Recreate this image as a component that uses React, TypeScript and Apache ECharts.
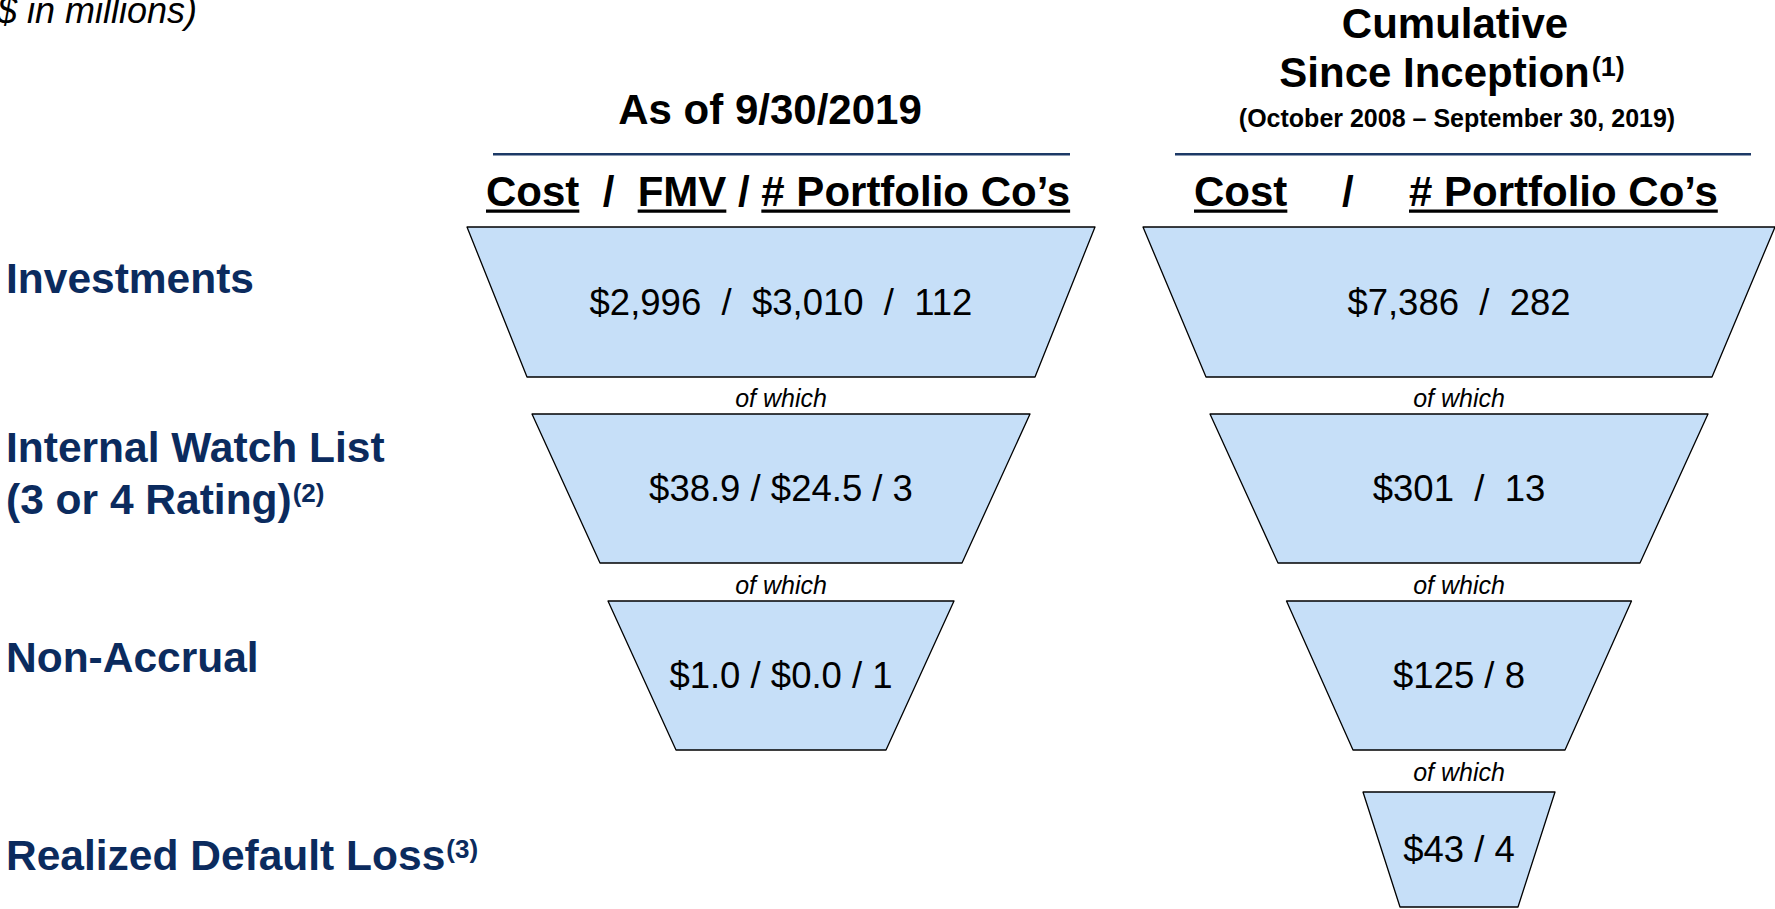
import React, { useEffect, useRef } from 'react';
import * as echarts from 'echarts';

// ---------- data ----------
const unitsNote = '($ in millions)';
const currentHeader = 'As of 9/30/2019';
const cumulativeTitle = ['Cumulative', 'Since Inception'];
const cumulativePeriod = '(October 2008 – September 30, 2019)';
const connectorText = 'of which';

const rowLabels = ['Investments', 'Internal Watch List', 'Non-Accrual', 'Realized Default Loss'];
const rowLabelSecondLine = ['', '(3 or 4 Rating)', '', ''];
const rowFootnotes = ['', '(2)', '', '(3)'];

const currentCost = [2996, 38.9, 1.0];
const currentFmv = [3010, 24.5, 0.0];
const currentCompanies = [112, 3, 1];
const currentDecimals = [0, 1, 1];

const cumulativeCost = [7386, 301, 125, 43];
const cumulativeCompanies = [282, 13, 8, 4];

const currentColumns = ['Cost', 'FMV', '# Portfolio Co’s'];
const cumulativeColumns = ['Cost', '# Portfolio Co’s'];

// ---------- styles / layout ----------
const FONT = '"Liberation Sans", Arial, Helvetica, sans-serif';
const NAVY = '#0B2B5E';
const RULE = '#1C3966';
const FILL = '#C6DFF8';
const NB = '\u00a0';

const leftCx = 781;
const rightCx = 1459;
const leftPieces = [
  { top: 227, h: 150, tw: 628, bw: 508 },
  { top: 414, h: 149, tw: 498, bw: 362 },
  { top: 601, h: 149, tw: 346, bw: 210 },
];
const rightPieces = [
  { top: 227, h: 150, tw: 632, bw: 506 },
  { top: 414, h: 149, tw: 498, bw: 362 },
  { top: 601, h: 149, tw: 345, bw: 212 },
  { top: 792, h: 115, tw: 192, bw: 118 },
];
const leftSeps = [NB + NB + '/' + NB + NB, NB + '/' + NB, NB + '/' + NB];
const rightSeps = [NB + NB + '/' + NB + NB, NB + NB + '/' + NB + NB, NB + '/' + NB, NB + '/' + NB];
const rowBaselines = [293, 462, 672, 870];
const connectorYs = [398, 585, 772];

function money(v: number, dec: number) {
  return '$' + v.toLocaleString('en-US', { minimumFractionDigits: dec, maximumFractionDigits: dec });
}

function measure(text: string, size: number, weight = 'normal', style = 'normal') {
  const ctx = document.createElement('canvas').getContext('2d')!;
  ctx.font = `${style} ${weight} ${size}px ${FONT}`;
  return ctx.measureText(text).width;
}

function txt(x: number, baseline: number, text: string, size: number, o: any = {}) {
  return {
    type: 'text',
    x,
    y: baseline - 0.3465 * size,
    silent: true,
    style: {
      text,
      fill: o.color || '#000',
      fontSize: size,
      fontFamily: FONT,
      fontWeight: o.weight || 'normal',
      fontStyle: o.style || 'normal',
      textAlign: o.align || 'left',
      textVerticalAlign: 'middle',
    },
  };
}

function funnel(cx: number, p: any, value: number, label: string) {
  return {
    type: 'funnel',
    silent: true,
    left: cx - p.tw / 2,
    top: p.top,
    width: p.tw,
    height: p.h,
    min: 0,
    max: value,
    minSize: p.bw,
    maxSize: p.tw,
    sort: 'none',
    gap: 0,
    funnelAlign: 'center',
    itemStyle: { color: FILL, borderColor: '#000', borderWidth: 1.3 },
    label: {
      show: true,
      position: 'inside',
      formatter: label,
      color: '#000',
      fontSize: 36.5,
      fontFamily: FONT,
      textBorderWidth: 0,
    },
    labelLine: { show: false },
    emphasis: { disabled: true },
    data: [{ value, name: label }],
  };
}

function buildOption() {
  const series: any[] = [];
  currentCost.forEach((c, i) => {
    const s = leftSeps[i];
    const label = money(c, currentDecimals[i]) + s + money(currentFmv[i], currentDecimals[i]) + s + String(currentCompanies[i]);
    series.push(funnel(leftCx, leftPieces[i], c, label));
  });
  cumulativeCost.forEach((c, i) => {
    const label = money(c, 0) + rightSeps[i] + String(cumulativeCompanies[i]);
    series.push(funnel(rightCx, rightPieces[i], c, label));
  });

  const g: any[] = [];
  // units note (left parenthesis falls off the page as in the source)
  g.push(txt(-15, 23, unitsNote, 36, { style: 'italic' }));

  // left header
  g.push(txt(770, 124, currentHeader, 42, { weight: 'bold', align: 'center' }));
  g.push({ type: 'rect', silent: true, shape: { x: 493, y: 153, width: 577, height: 2.6 }, style: { fill: RULE } });
  const leftPiecesText: [string, boolean][] = [
    [currentColumns[0], true],
    [NB + NB + '/' + NB + NB, false],
    [currentColumns[1], true],
    [NB + '/' + NB, false],
    [currentColumns[2], true],
  ];
  let x = 486;
  leftPiecesText.forEach(([t, u]) => {
    const w = measure(t, 42, 'bold');
    g.push(txt(x, 206, t, 42, { weight: 'bold' }));
    if (u) g.push({ type: 'rect', silent: true, shape: { x, y: 209.5, width: w, height: 3.2 }, style: { fill: '#000' } });
    x += w;
  });

  // right header
  g.push(txt(1455, 38, cumulativeTitle[0], 42, { weight: 'bold', align: 'center' }));
  const wMain = measure(cumulativeTitle[1], 42, 'bold');
  const wSup = measure('(1)', 27, 'bold');
  const start = 1452 - (wMain + wSup + 2) / 2;
  g.push(txt(start, 87, cumulativeTitle[1], 42, { weight: 'bold' }));
  g.push(txt(start + wMain + 2, 76, '(1)', 27, { weight: 'bold' }));
  g.push(txt(1457, 127, cumulativePeriod, 25, { weight: 'bold', align: 'center' }));
  g.push({ type: 'rect', silent: true, shape: { x: 1175, y: 153, width: 576, height: 2.6 }, style: { fill: RULE } });
  const rightXs = [1194, 1342, 1409];
  const rightTexts: [string, boolean][] = [[cumulativeColumns[0], true], ['/', false], [cumulativeColumns[1], true]];
  rightTexts.forEach(([t, u], i) => {
    const w = measure(t, 42, 'bold');
    g.push(txt(rightXs[i], 206, t, 42, { weight: 'bold' }));
    if (u) g.push({ type: 'rect', silent: true, shape: { x: rightXs[i], y: 209.5, width: w, height: 3.2 }, style: { fill: '#000' } });
  });

  // row labels
  rowLabels.forEach((lab, i) => {
    const b = rowBaselines[i];
    const second = rowLabelSecondLine[i];
    const size = 42.5;
    if (second) {
      g.push(txt(6, b, lab, size, { weight: 'bold', color: NAVY }));
      g.push(txt(6, b + 52, second, size, { weight: 'bold', color: NAVY }));
      if (rowFootnotes[i]) {
        const w = measure(second, size, 'bold');
        g.push(txt(6 + w + 1, b + 52 - 12, rowFootnotes[i], 26, { weight: 'bold', color: NAVY }));
      }
    } else {
      g.push(txt(6, b, lab, size, { weight: 'bold', color: NAVY }));
      if (rowFootnotes[i]) {
        const w = measure(lab, size, 'bold');
        g.push(txt(6 + w + 1, b - 12, rowFootnotes[i], 26, { weight: 'bold', color: NAVY }));
      }
    }
  });

  // connectors
  for (let i = 0; i < leftPieces.length - 1; i++) {
    g.push({ ...txt(leftCx, 0, connectorText, 25, { style: 'italic', align: 'center' }), y: connectorYs[i] });
  }
  for (let i = 0; i < rightPieces.length - 1; i++) {
    g.push({ ...txt(rightCx, 0, connectorText, 25, { style: 'italic', align: 'center' }), y: connectorYs[i] });
  }

  return {
    animation: false,
    backgroundColor: '#ffffff',
    series,
    graphic: { elements: g },
  };
}

export default function App() {
  const ref = useRef<HTMLDivElement>(null);
  useEffect(() => {
    if (!ref.current) return;
    const chart = echarts.init(ref.current, undefined, { renderer: 'svg' });
    chart.setOption(buildOption() as any);
    return () => chart.dispose();
  }, []);
  return (
    <div
      ref={ref}
      style={{ position: 'fixed', left: 0, top: 0, width: '1775px', height: '909px', background: '#fff' }}
    />
  );
}
